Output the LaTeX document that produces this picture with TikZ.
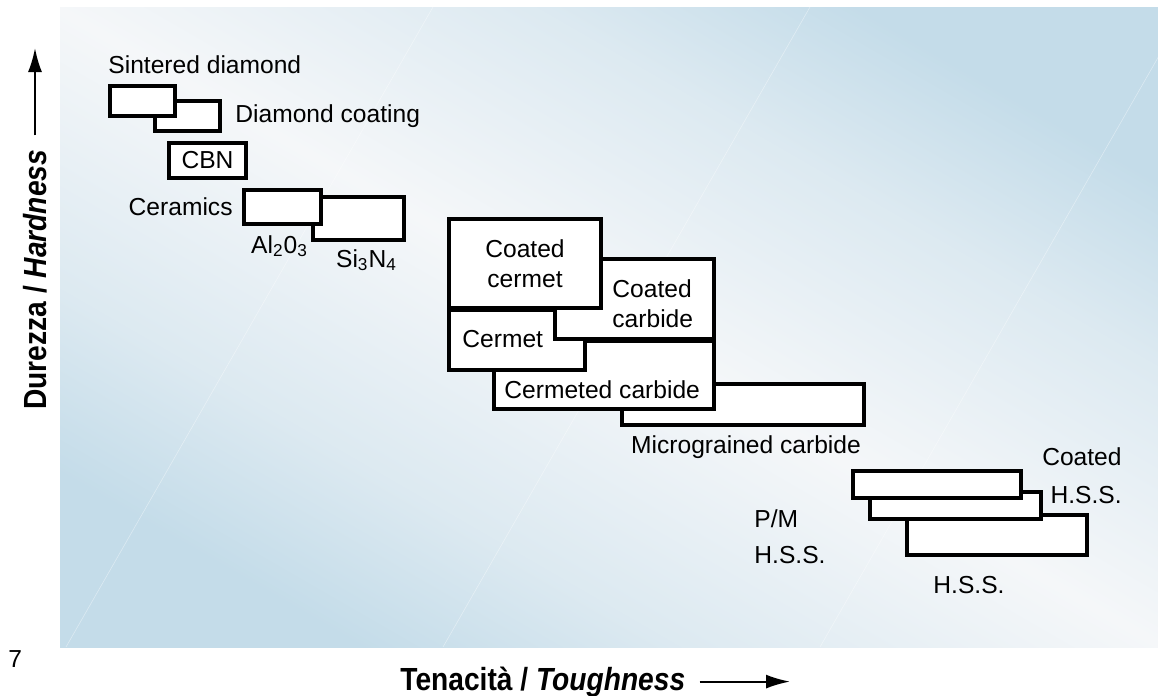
\documentclass[tikz,border=0pt]{standalone}
\usepackage{fontspec}
\setmainfont{Liberation Sans}
\newfontfamily\axisfont[FakeStretch=0.88]{Liberation Sans}
\usetikzlibrary{arrows.meta,positioning}
\definecolor{bgblue}{RGB}{196,220,233}
\definecolor{bglight}{RGB}{245,247,249}
\colorlet{bgsoft}{bgblue!50!bglight}
\pgfdeclareverticalshading{bgshade}{100bp}{color(0bp)=(bgblue); color(25bp)=(bgblue);
  color(35bp)=(bgsoft); color(50bp)=(bglight); color(65bp)=(bgsoft);
  color(75bp)=(bgblue); color(100bp)=(bgblue)}
\tikzstyle{matbox}=[draw=black,line width=2pt,fill=white,inner sep=0pt,outer sep=0pt]
\tikzstyle{lbl}=[inner sep=0pt,font=\fontsize{12.3}{15}\selectfont]
\tikzstyle{axislbl}=[inner sep=0pt,font=\axisfont\fontsize{16}{19}\selectfont\bfseries]
\tikzstyle{axisarrow}=[-{Latex[length=12pt,width=7pt]},line width=1pt]
\tikzstyle{sheen}=[white,line width=.3pt,opacity=.4]

\begin{document}
\begin{tikzpicture}[x=.5pt,y=-.5pt]
	\useasboundingbox (0,0) rectangle (1158,696);

	% background
	\begin{scope}
	\clip (60,7) rectangle (1158,647);
	\shade[shading=bgshade,shading angle=-30] (60,7) rectangle (1158,647);
	\draw[sheen] (433,7) -- (66,647);
	\draw[sheen] (810,7) -- (443,647);
	\draw[sheen] (1187,7) -- (820,647);
	\end{scope}

	% super hard materials
	\node[matbox,minimum width=32.5pt,minimum height=15pt] (diacoat) at (187.5,116) {};
	\node[matbox,minimum width=32.5pt,minimum height=15pt] (sintered) at (142.5,101) {};
	\node[matbox,lbl,minimum width=38.5pt,minimum height=17.5pt] (cbn) at (207.5,160.5) {CBN};
	\node[matbox,minimum width=45.5pt,minimum height=21.5pt] (si3n4) at (358.5,218.5) {};
	\node[matbox,minimum width=38.5pt,minimum height=17pt] (al2o3) at (282.5,207) {};

	\node[lbl,anchor=base west] (sintered-lbl) at (108,73) {Sintered diamond};
	\node[lbl,right=7.5pt of diacoat] (diacoat-lbl) {Diamond coating};
	\node[lbl,left=5.5pt of al2o3] (ceramics-lbl) {Ceramics};
	\node[lbl,below=5.5pt of al2o3,xshift=-1.5pt] (al2o3-lbl) {Al\textsubscript{2}0\textsubscript{3}};
	\node[lbl,below=4.5pt of si3n4,xshift=4pt] (si3n4-lbl) {Si\textsubscript{3}N\textsubscript{4}};

	% carbides and cermets
	\node[matbox,minimum width=121pt,minimum height=20.5pt] (micro) at (743,404.5) {};
	\node[matbox,minimum width=110pt,minimum height=34pt] (cermeted) at (604,375) {};
	\node[matbox,minimum width=68pt,minimum height=30pt] (cermet) at (517,340) {};
	\node[matbox,minimum width=79.5pt,minimum height=40pt] (coatcarb) at (634.5,299) {};
	\node[matbox,lbl,align=center,minimum width=76pt,minimum height=44.5pt] (coatcerm) at (525,263.5) {Coated\\cermet};

	\node[lbl,align=left,anchor=north west] (coatcarb-lbl) at (612,279) {Coated\\carbide};
	\node[lbl,anchor=base west] (cermet-lbl) at (462,347) {Cermet};
	\node[lbl,anchor=base west] (cermeted-lbl) at (504,398) {Cermeted carbide};
	\node[lbl,below=5pt of micro,xshift=1.5pt] (micro-lbl) {Micrograined carbide};

	% high speed steels
	\node[matbox,minimum width=90pt,minimum height=20pt] (hss) at (997,535) {};
	\node[matbox,minimum width=85.5pt,minimum height=13.5pt] (pmhss) at (955.5,505.5) {};
	\node[matbox,minimum width=84pt,minimum height=13.5pt] (coathss) at (937,484.5) {};

	\node[lbl,align=right,anchor=north east] (coathss-lbl) at (1122,447.5) {Coated\\[4pt]H.S.S.};
	\node[lbl,align=left,anchor=north west] (pmhss-lbl) at (754,509.5) {P/M\\[3pt]H.S.S.};
	\node[lbl,anchor=base west] (hss-lbl) at (933,593) {H.S.S.};

	%axis
	\node[axislbl,rotate=90,anchor=west] (ylab) at (35,410) {Durezza / \textit{Hardness}};
	\coordinate (ytip) at (35,48);
	\draw[axisarrow,shorten <=7pt] (ylab.east) -- (ytip);
	\node[axislbl,anchor=base west] (xlab) at (400,690) {Tenacità / \textit{Toughness}};
	\coordinate (xtip) at (xlab.east -| 790,0);
	\draw[axisarrow,shorten <=7pt] (xlab.east) -- (xtip);

	\node[lbl,anchor=base west] (pagenum) at (8,667) {7};
\end{tikzpicture}
\end{document}
